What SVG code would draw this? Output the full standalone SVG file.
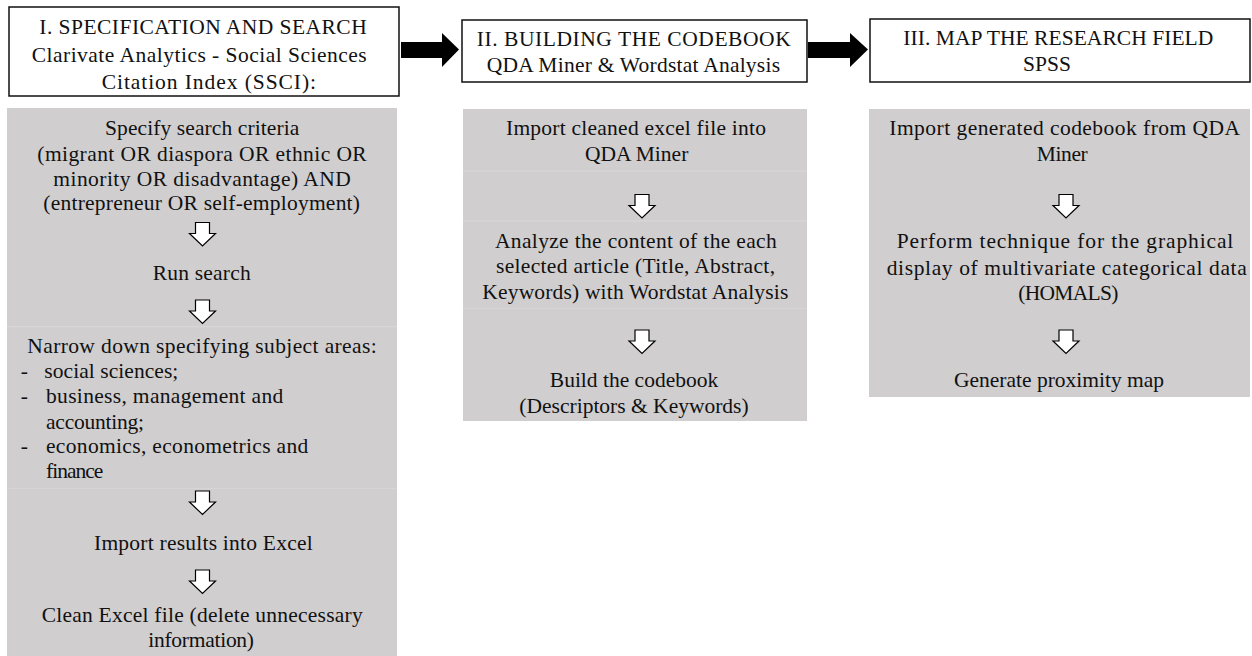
<svg xmlns="http://www.w3.org/2000/svg" xmlns:xlink="http://www.w3.org/1999/xlink" width="1252" height="656" viewBox="0 0 1252 656">
<style>
.t{font-family:"Liberation Serif","Times New Roman",serif;font-size:21.5px;fill:#111}
.box{fill:#fff;stroke:#111;stroke-width:1.5}
.panel{fill:#d0cecf}
.sep{stroke:#dad8d9;stroke-width:1}
.big{fill:#000}
.down{fill:#fff;stroke:#000;stroke-width:1.2}
</style>
<defs>
<path id="dn" d="M-7,0 H7 V11 H13 L0,23.5 L-13,11 H-7 Z"/>
</defs>
<rect width="1252" height="656" fill="#fff"/>

<g id="box1">
<rect class="box" x="9" y="7" width="390" height="89"/>
<text class="t" x="39.3" y="34.3" textLength="327.4" lengthAdjust="spacing">I. SPECIFICATION AND SEARCH</text>
<text class="t" x="31.7" y="62" textLength="335" lengthAdjust="spacing">Clarivate Analytics - Social Sciences</text>
<text class="t" x="101.7" y="88.5" textLength="214.3" lengthAdjust="spacing">Citation Index (SSCI):</text>
</g>

<g id="box2">
<rect class="box" x="462" y="20" width="345" height="62"/>
<text class="t" x="476.7" y="45.5" textLength="314" lengthAdjust="spacing">II. BUILDING THE CODEBOOK</text>
<text class="t" x="486.7" y="71.7" textLength="293.3" lengthAdjust="spacing">QDA Miner &amp; Wordstat Analysis</text>
</g>

<g id="box3">
<rect class="box" x="870" y="19" width="380" height="63"/>
<text class="t" x="903.3" y="45" textLength="310" lengthAdjust="spacing">III. MAP THE RESEARCH FIELD</text>
<text class="t" x="1047" y="71" text-anchor="middle">SPSS</text>
</g>

<g id="panel1">
<rect class="panel" x="7" y="108" width="390" height="548"/>
<line class="sep" x1="7" y1="326.7" x2="397" y2="326.7"/>
<line class="sep" x1="7" y1="488.3" x2="397" y2="488.3"/>
<text class="t" x="105" y="135" textLength="194.3" lengthAdjust="spacing">Specify search criteria</text>
<text class="t" x="37.3" y="161" textLength="329.4" lengthAdjust="spacing">(migrant OR diaspora OR ethnic OR</text>
<text class="t" x="53.3" y="185.5" textLength="297.4" lengthAdjust="spacing">minority OR disadvantage) AND</text>
<text class="t" x="43.3" y="210" textLength="316.7" lengthAdjust="spacing">(entrepreneur OR self-employment)</text>
<text class="t" x="152.7" y="280" textLength="98" lengthAdjust="spacing">Run search</text>
<text class="t" x="27.3" y="352.7" textLength="349.4" lengthAdjust="spacing">Narrow down specifying subject areas:</text>
<text class="t" x="20.7" y="378.3">-</text>
<text class="t" x="44.3" y="378.3" textLength="134" lengthAdjust="spacing">social sciences;</text>
<text class="t" x="20.7" y="403.3">-</text>
<text class="t" x="46" y="403.3" textLength="237.3" lengthAdjust="spacing">business, management and</text>
<text class="t" x="46" y="429.3" textLength="98" lengthAdjust="spacing">accounting;</text>
<text class="t" x="20.7" y="453.3">-</text>
<text class="t" x="46" y="453.3" textLength="262.3" lengthAdjust="spacing">economics, econometrics and</text>
<text class="t" x="46" y="477.7" textLength="57.3" lengthAdjust="spacing">finance</text>
<text class="t" x="94" y="550" textLength="218.7" lengthAdjust="spacing">Import results into Excel</text>
<text class="t" x="41.7" y="621.7" textLength="321" lengthAdjust="spacing">Clean Excel file (delete unnecessary</text>
<text class="t" x="148.3" y="646.7" textLength="105.7" lengthAdjust="spacing">information)</text>
</g>

<g id="panel2">
<rect class="panel" x="463" y="109" width="344" height="312"/>
<line class="sep" x1="463" y1="171" x2="807" y2="171"/>
<line class="sep" x1="463" y1="221" x2="807" y2="221"/>
<line class="sep" x1="463" y1="308.3" x2="807" y2="308.3"/>
<text class="t" x="506" y="135" textLength="260" lengthAdjust="spacing">Import cleaned excel file into</text>
<text class="t" x="585" y="161" textLength="103.3" lengthAdjust="spacing">QDA Miner</text>
<text class="t" x="495" y="247.7" textLength="281.7" lengthAdjust="spacing">Analyze the content of the each</text>
<text class="t" x="496" y="273.3" textLength="279" lengthAdjust="spacing">selected article (Title, Abstract,</text>
<text class="t" x="482.3" y="299" textLength="306" lengthAdjust="spacing">Keywords) with Wordstat Analysis</text>
<text class="t" x="634" y="387" text-anchor="middle">Build the codebook</text>
<text class="t" x="634" y="413" text-anchor="middle">(Descriptors &amp; Keywords)</text>
</g>

<g id="panel3">
<rect class="panel" x="869" y="109" width="381" height="288"/>
<text class="t" x="889.3" y="135" textLength="350.7" lengthAdjust="spacing">Import generated codebook from QDA</text>
<text class="t" x="1036.7" y="161" textLength="51" lengthAdjust="spacing">Miner</text>
<text class="t" x="896.7" y="248" textLength="336.6" lengthAdjust="spacing">Perform technique for the graphical</text>
<text class="t" x="886.7" y="274.5" textLength="360" lengthAdjust="spacing">display of multivariate categorical data</text>
<text class="t" x="1018.3" y="299.5" textLength="100" lengthAdjust="spacing">(HOMALS)</text>
<text class="t" x="1059" y="387" text-anchor="middle">Generate proximity map</text>
</g>

<g id="connectors">
<polygon class="big" points="401,42 442,42 442,33 459,49.5 442,67 442,58 401,58"/>
<polygon class="big" points="808,42 850,42 850,33 868,49.5 850,67 850,58 808,58"/>
<use class="down" xlink:href="#dn" href="#dn" x="202.5" y="222.5"/>
<use class="down" xlink:href="#dn" href="#dn" x="202.5" y="300"/>
<use class="down" xlink:href="#dn" href="#dn" x="202.5" y="491"/>
<use class="down" xlink:href="#dn" href="#dn" x="202.5" y="570"/>
<use class="down" xlink:href="#dn" href="#dn" x="642" y="194.5"/>
<use class="down" xlink:href="#dn" href="#dn" x="642" y="330"/>
<use class="down" xlink:href="#dn" href="#dn" x="1066" y="194.5"/>
<use class="down" xlink:href="#dn" href="#dn" x="1066" y="330"/>
</g>
</svg>
